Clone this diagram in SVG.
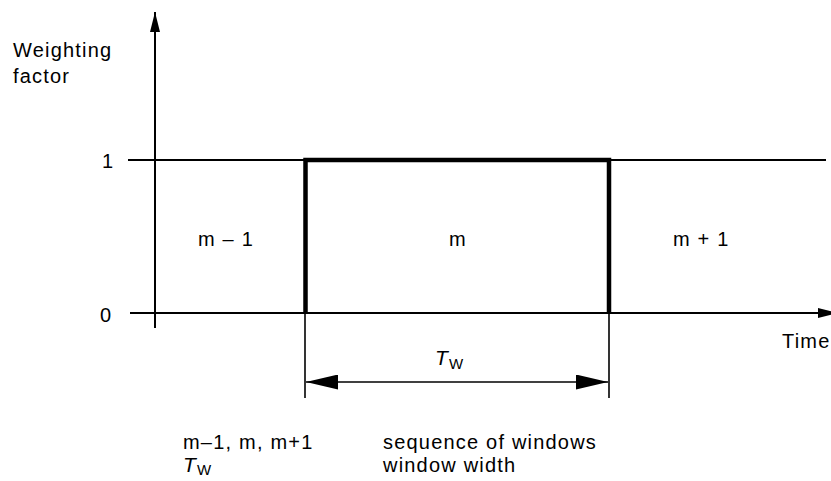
<svg xmlns="http://www.w3.org/2000/svg" width="831" height="481" viewBox="0 0 831 481">
<style>
text{font-family:"Liberation Sans",Arial,sans-serif;font-size:20px;letter-spacing:1.2px;fill:#000}
.it{font-style:italic;font-size:21px}
.sub{font-size:15px;letter-spacing:0}
.thin{stroke:#000;stroke-width:2;fill:none}
.ext{stroke:#000;stroke-width:1.6;fill:none}
.thick{stroke:#000;stroke-width:4.5;fill:none}
</style>
<defs>
<marker id="ah" viewBox="0 0 20 10" refX="20" refY="5" markerWidth="20" markerHeight="10" markerUnits="userSpaceOnUse" orient="auto-start-reverse"><path d="M0,0 L20,5 L0,10 Z" fill="#000"/></marker>
<marker id="dim" viewBox="0 0 32 15" refX="32" refY="7.5" markerWidth="32" markerHeight="15" markerUnits="userSpaceOnUse" orient="auto-start-reverse"><path d="M0,0 L32,7.5 L0,15 Z" fill="#000"/></marker>
</defs>
<g id="connectors">
<line id="y-axis" class="thin" x1="155" y1="328" x2="155" y2="12" marker-end="url(#ah)"/>
<line id="x-axis" class="thin" x1="130" y1="313" x2="838" y2="313" marker-end="url(#ah)"/>
<line id="level-1" class="thin" x1="128" y1="160" x2="826" y2="160"/>
<path id="window" class="thick" d="M305.5,313 V160 H609 V313"/>
<line class="ext" x1="305" y1="313" x2="305" y2="398"/>
<line class="ext" x1="609" y1="313" x2="609" y2="398"/>
<line id="tw-dim" class="ext" x1="306" y1="382" x2="608" y2="382" marker-start="url(#dim)" marker-end="url(#dim)"/>
</g>
<g id="axis-labels">
<text x="13" y="57">Weighting</text>
<text x="13" y="83">factor</text>
<text x="102" y="168">1</text>
<text x="100" y="322">0</text>
<text x="782" y="348">Time</text>
</g>
<g id="windows">
<text id="w-m-1" x="198" y="246">m – 1</text>
<text id="w-m" x="449" y="246">m</text>
<text id="w-m+1" x="673" y="246">m + 1</text>
</g>
<g id="tw-label">
<text x="435" y="365"><tspan class="it">T</tspan><tspan class="sub" dy="4">W</tspan></text>
</g>
<g id="legend">
<text x="183" y="449">m–1, m, m+1</text>
<text x="183" y="472"><tspan class="it">T</tspan><tspan class="sub" dy="3">W</tspan></text>
<text x="383" y="449">sequence of windows</text>
<text x="383" y="472">window width</text>
</g>
</svg>
